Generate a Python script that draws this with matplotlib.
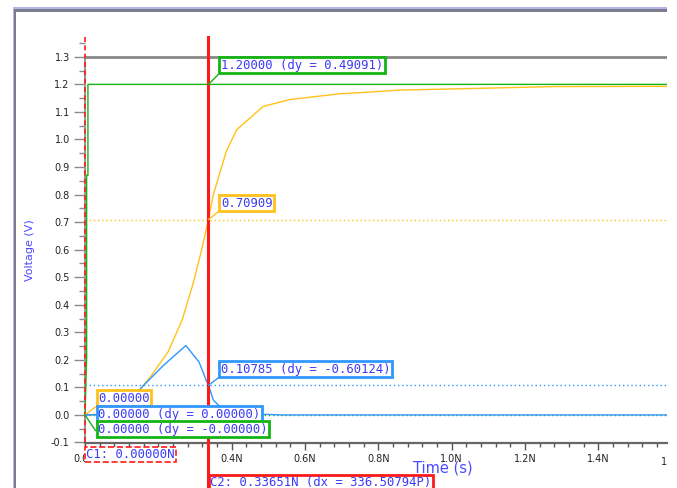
import matplotlib
matplotlib.use("Agg")
import matplotlib.pyplot as plt
from matplotlib.patches import Rectangle
from matplotlib.ticker import MultipleLocator, FuncFormatter
from matplotlib.transforms import Bbox, TransformedBbox

# --- waveform data (time in ns, voltage in V) ---
t_in = [0.0, 0.0045, 0.0045, 0.008, 0.008, 1.587]
v_in = [0.0, 0.21, 0.87, 0.87, 1.20, 1.20]

t_out = [0.0, 0.05, 0.10, 0.158, 0.182, 0.227, 0.265, 0.295, 0.318, 0.3365,
         0.35, 0.386, 0.414, 0.486, 0.559, 0.695, 0.75, 0.854, 1.017, 1.15,
         1.277, 1.587]
v_out = [0.0, 0.003, 0.03, 0.105, 0.145, 0.23, 0.345, 0.478, 0.599, 0.709,
         0.80, 0.96, 1.036, 1.12, 1.145, 1.166, 1.17, 1.179, 1.184, 1.188,
         1.192, 1.193]

t_mid = [0.0, 0.06, 0.11, 0.158, 0.214, 0.275, 0.311, 0.332, 0.3365, 0.35,
         0.368, 0.40, 0.45, 0.54, 1.587]
v_mid = [0.0, 0.002, 0.03, 0.105, 0.18, 0.252, 0.192, 0.121, 0.108, 0.054,
         0.03, 0.012, 0.004, 0.0, 0.0]

# --- cursors and readouts ---
c1_t = 0.0
c2_t = 0.33651
c1_label = "C1: 0.00000N"
c2_label = "C2: 0.33651N (dx = 336.50794P)"

c1_values = [0.0, 0.0, 0.0]          # yellow, blue, green at C1
c1_texts = ["0.00000", "0.00000 (dy = 0.00000)", "0.00000 (dy = -0.00000)"]
c2_values = [1.20, 0.70909, 0.10785]  # green, yellow, blue at C2
c2_texts = ["1.20000 (dy = 0.49091)", "0.70909", "0.10785 (dy = -0.60124)"]

GREEN = "#14b414"
YELLOW = "#ffc21a"
BLUE = "#2f97ff"
RED = "#ff1a1a"
TXT = "#3b3bf5"

fig = plt.figure(figsize=(6.77, 4.88), dpi=100)
W, H = 677, 488
ax = fig.add_axes([85 / W, (488 - 442.5) / H, (667 - 85) / W, (442.5 - 37) / H])
ax.set_xlim(0, 1.587)
ax.set_ylim(-0.1, 1.372)

# dotted readout levels
for val, col in [(0.70909, YELLOW), (0.10785, BLUE), (0.0, GREEN)]:
    ax.axhline(val, color=col, lw=1, ls=(0, (1, 2)), zorder=1)
ax.axhline(1.3, color="#888888", lw=2, zorder=1)

ax.plot(t_in, v_in, color=GREEN, lw=1, zorder=3)
ax.plot(t_out, v_out, color=YELLOW, lw=1, zorder=3)
ax.plot(t_mid, v_mid, color=BLUE, lw=1, zorder=3)

# axes styling
for s in ["top", "right"]:
    ax.spines[s].set_visible(False)
ax.spines["left"].set_bounds(-0.1, 1.3)
ax.spines["left"].set_color("#9a9a9a")
ax.spines["left"].set_linewidth(1.5)
ax.spines["bottom"].set_color("#666666")
ax.spines["bottom"].set_linewidth(1.6)

ax.yaxis.set_major_locator(MultipleLocator(0.1))
ax.yaxis.set_minor_locator(MultipleLocator(0.05))
ax.xaxis.set_major_locator(MultipleLocator(0.2))
ax.xaxis.set_minor_locator(MultipleLocator(0.04))
ax.yaxis.set_major_formatter(FuncFormatter(lambda v, p: f"{v:.1f}"))
ax.xaxis.set_major_formatter(FuncFormatter(lambda v, p: f"{v:.1f}N"))
ax.set_yticks([v / 10 for v in range(-1, 14)])
ax.tick_params(axis="y", which="major", length=8, width=1, color="#8a8a8a",
               labelsize=7, labelcolor="#222222", pad=3)
ax.tick_params(axis="y", which="minor", length=4.5, width=1, color="#8a8a8a")
ax.tick_params(axis="x", which="major", length=5, width=1, color="#555555",
               labelsize=7, labelcolor="#222222", pad=3)
ax.tick_params(axis="x", which="minor", length=3, width=1, color="#555555")

# clipped 1.6N label at the right edge
lab = ax.text(1.6, -0.1, "1.6N", ha="center", va="top", fontsize=7,
              color="#222222", transform=ax.transData)
lab.set_position((1.6, -0.1 - 14 / 275.4))
lab.set_clip_box(TransformedBbox(Bbox([[-0.2, -0.3], [1.0, 1.0]]), ax.transAxes))
lab.set_clip_on(True)

# cursor lines
ax.plot([c1_t, c1_t], [1.0, -0.009], transform=ax.get_xaxis_transform(),
        color=RED, lw=1.2, ls=(0, (3, 2)), clip_on=False, zorder=5)
ax.plot([c2_t, c2_t], [1.0, -0.15], transform=ax.get_xaxis_transform(),
        color=RED, lw=2.2, clip_on=False, zorder=5)

font = dict(family="DejaVu Sans Mono", fontsize=8.8, color=TXT)


def readout(x, y, text, edge, dx, dy, va="bottom", rel=(0, 0), z=6):
    ax.annotate(text, xy=(x, y), xytext=(dx, dy), textcoords="offset pixels",
                ha="left", va=va, **font,
                bbox=dict(boxstyle="square,pad=0.12", fc="white", ec=edge, lw=2),
                arrowprops=dict(arrowstyle="-", color=edge, lw=1, shrinkA=0,
                                shrinkB=0, relpos=rel),
                zorder=z, annotation_clip=False)


# C2 readouts
c2_cols = [GREEN, YELLOW, BLUE]
c2_offs = [(12.5, 12.5), (12.5, 10), (12.5, 9.3)]
for v, txt, col, (dx, dy) in zip(c2_values, c2_texts, c2_cols, c2_offs):
    readout(c2_t, v, txt, col, dx, dy)

# C1 readouts
c1_cols = [YELLOW, BLUE, GREEN]
c1_offs = [(13, 10), (13, -6), (13, -20.7)]
c1_rel = [(0, 0), (0, 0.5), (0, 0.1)]
for v, txt, col, (dx, dy), rel, z in zip(c1_values, c1_texts, c1_cols, c1_offs,
                                         c1_rel, [6, 6.1, 6.2]):
    readout(c1_t, v, txt, col, dx, dy, rel=rel, z=z)

# cursor labels under the axis
ax.annotate(c1_label, xy=(c1_t, -0.1), xytext=(1, -5.5), textcoords="offset pixels",
            ha="left", va="top", **font, annotation_clip=False, zorder=6,
            bbox=dict(boxstyle="square,pad=0.12", fc="white", ec=RED, lw=1.2, ls="--"))
ax.annotate(c2_label, xy=(c2_t, -0.1), xytext=(2, -33.5), textcoords="offset pixels",
            ha="left", va="top", **font, annotation_clip=False, zorder=6,
            bbox=dict(boxstyle="square,pad=0.12", fc="white", ec=RED, lw=2))

# axis titles
fig.text(443 / W, 1 - 468 / H, "Time (s)", ha="center", va="center",
         fontsize=10.5, color="#4a4aff")
fig.text(30 / W, 1 - 250 / H, "Voltage (V)", ha="center", va="center",
         rotation=90, fontsize=8, color="#4a4aff")

# window frame
fig.add_artist(Rectangle((13 / W, 1 - 9 / H), (667 - 13) / W, 2.3 / H,
                         transform=fig.transFigure, color="#b4b4ec", lw=0))
fig.add_artist(Rectangle((13 / W, 1 - 11.7 / H), (667 - 13) / W, 2.7 / H,
                         transform=fig.transFigure, color="#7c7c8c", lw=0))
fig.add_artist(Rectangle((12.7 / W, 0), 1.3 / W, 1 - 7 / H,
                         transform=fig.transFigure, color="#b4b4ec", lw=0))
fig.add_artist(Rectangle((14 / W, 0), 2 / W, 1 - 9 / H,
                         transform=fig.transFigure, color="#7c7c8c", lw=0))

fig.savefig("out.png", dpi=100)
